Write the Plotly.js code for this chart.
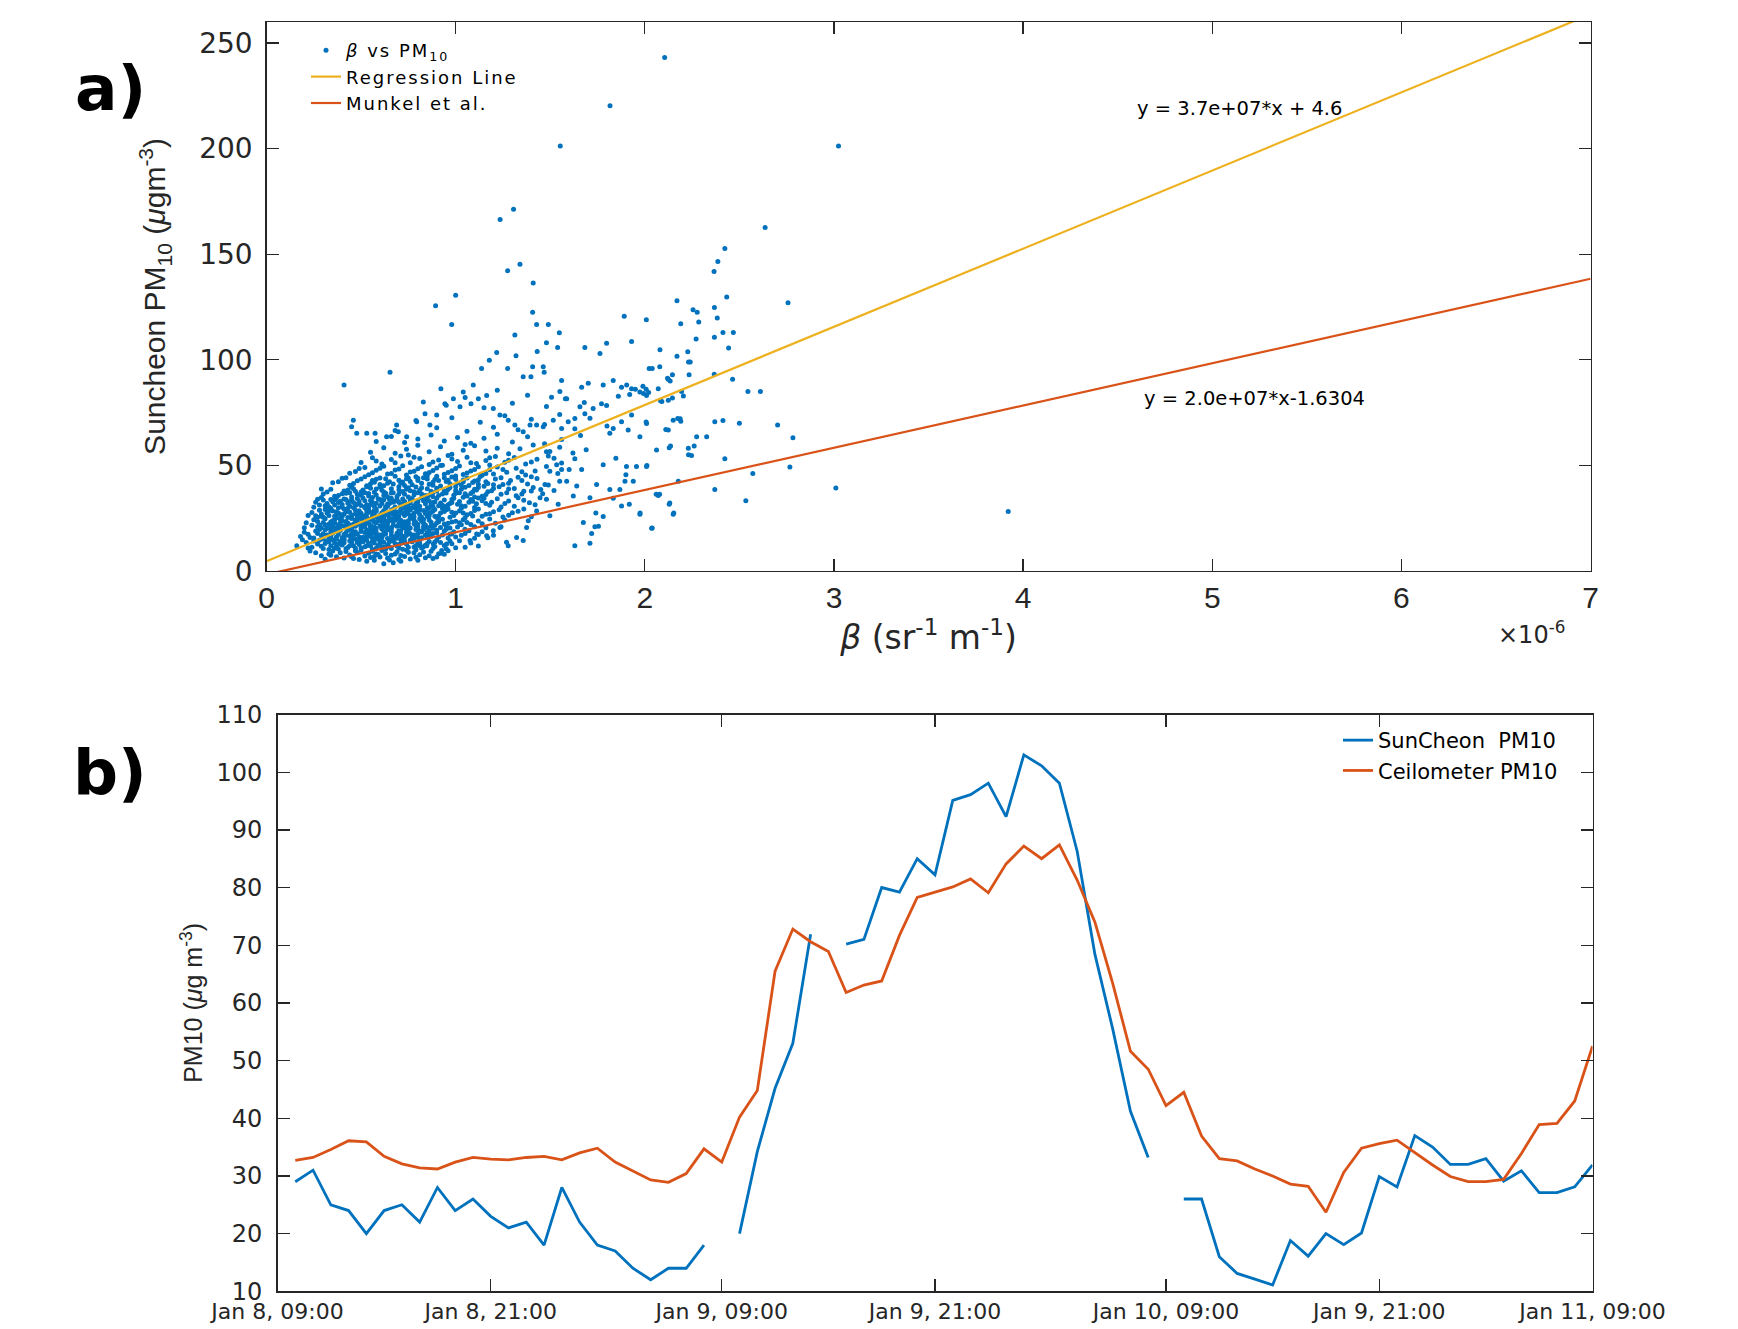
<!DOCTYPE html>
<html>
<head>
<meta charset="utf-8">
<script src="https://cdn.plot.ly/plotly-3.0.1.min.js"></script>
<style>
html,body{margin:0;padding:0;background:#fff;}
#chart{width:1738px;height:1329px;}
g.legend .legendtext{letter-spacing:2px;}
.scrollbox{clip-path:none !important;}
</style>
</head>
<body>
<div id="chart"></div>
<script>
// ---------------- Panel a) data : [beta (x1e-6 sr^-1 m^-1), PM10 (ug m^-3)] ----------------
const coreLow = [
[0.62,3.4],[0.67,3.9],[0.71,4.6],[0.57,5.1],[0.76,5.7],[0.49,5.4],[0.84,6.3],[0.41,6.1],[0.53,4.6],[0.29,7.2],[0.33,8.1],[0.37,6.8],[0.44,7.6],[0.48,8.8],[0.52,7.1],[0.56,9.4],[0.6,6.6],[0.63,8.3],[0.66,7.4],[0.69,9.1],[0.73,6.9],[0.78,8.6],[0.81,7.7],[0.87,9.3],[0.91,8.2],[0.96,9.6],[0.35,9.5],[0.42,9.2],[0.46,5.9],[0.58,8.0],[0.74,9.8],[0.31,5.6],[0.88,5.9],[0.65,5.2],[0.55,6.4],
[0.21,13.5],[0.24,11.2],[0.27,12.8],[0.3,10.6],[0.32,14.1],[0.34,11.9],[0.36,13.2],[0.38,10.4],[0.4,12.3],[0.41,14.6],[0.43,11.1],[0.45,13.7],[0.47,10.8],[0.49,12.6],[0.5,14.4],[0.52,11.5],[0.54,13.0],[0.56,10.2],[0.57,14.8],[0.59,12.1],[0.61,11.0],[0.62,13.6],[0.64,12.4],[0.66,10.7],[0.67,14.2],[0.69,11.8],[0.71,13.1],[0.72,10.3],[0.74,12.7],[0.76,14.5],[0.78,11.4],[0.8,13.3],[0.82,10.9],[0.84,12.2],[0.86,14.0],[0.89,11.6],[0.92,13.5],[0.95,10.5],[0.98,12.9],[1.02,14.3],[1.05,11.3],[0.44,12.0],[0.53,12.0],[0.6,14.0],[0.7,12.5],[0.37,11.5],[0.28,14.6],[0.48,14.9],[0.65,11.5],[0.79,10.1]
];
const coreLowExtra = [
[0.34,7.5],[0.39,8.6],[0.45,6.7],[0.5,9.9],[0.54,8.4],[0.59,7.8],[0.61,9.7],[0.64,6.1],[0.68,8.0],[0.71,7.3],[0.75,8.9],[0.79,6.5],[0.83,9.0],[0.86,7.2],[0.9,6.6],[0.94,7.9],[0.47,9.6],[0.57,6.9],[0.7,5.4],[0.8,5.1],
[0.22,10.9],[0.25,14.2],[0.29,11.7],[0.31,13.0],[0.33,10.2],[0.35,14.8],[0.38,12.7],[0.39,14.0],[0.42,10.5],[0.44,14.3],[0.46,11.9],[0.48,13.5],[0.5,10.9],[0.51,13.8],[0.55,11.8],[0.56,14.0],[0.58,10.8],[0.6,12.8],[0.63,10.4],[0.65,14.7],[0.68,13.0],[0.7,10.9],[0.73,14.1],[0.75,11.2],[0.77,13.8],[0.79,12.0],[0.81,14.6],[0.83,11.5],[0.85,13.0],[0.88,10.6],[0.9,14.5],[0.94,12.1],[0.97,14.2],[1.0,11.0],[1.08,13.2],[1.12,11.8],[0.36,10.8],[0.53,14.6],[0.62,11.4],[0.71,14.9],
[0.16,12.0],[0.19,14.8],[0.23,9.5],[0.26,8.6]
];
const coreMid = [
[0.18,16.3],[0.22,17.4],[0.25,15.6],[0.26,18.9],[0.29,16.8],[0.31,19.5],[0.33,15.3],[0.35,17.9],[0.37,16.1],[0.39,19.2],[0.4,15.8],[0.42,18.1],[0.44,16.6],[0.45,19.8],[0.47,15.2],[0.48,17.5],[0.5,18.7],[0.51,16.0],[0.53,19.4],[0.55,17.1],[0.56,15.5],[0.58,18.3],[0.59,16.7],[0.61,19.9],[0.63,17.6],[0.64,15.4],[0.66,18.5],[0.68,16.3],[0.7,19.0],[0.71,17.2],[0.73,15.9],[0.75,18.8],[0.77,16.5],[0.79,19.6],[0.8,17.8],[0.82,15.7],[0.85,18.2],[0.87,16.4],[0.9,19.3],[0.93,17.0],[0.96,15.6],[0.99,18.6],[1.03,16.9],[1.07,19.1],[1.12,17.3],[1.17,15.8],[0.34,19.9],[0.46,16.9],[0.52,15.1],[0.6,17.0],[0.69,17.9],[0.74,16.9],[0.83,19.7],[0.41,17.3],[0.57,19.0],
[0.24,21.6],[0.27,23.4],[0.29,20.5],[0.31,24.7],[0.33,22.1],[0.35,20.8],[0.36,24.0],[0.38,21.9],[0.4,23.8],[0.42,20.3],[0.43,22.7],[0.45,24.9],[0.47,21.2],[0.48,23.5],[0.5,20.6],[0.52,22.9],[0.53,24.4],[0.55,21.5],[0.57,23.1],[0.58,20.1],[0.6,24.6],[0.62,22.3],[0.63,20.9],[0.65,23.9],[0.67,21.7],[0.68,24.2],[0.7,22.6],[0.72,20.4],[0.73,23.3],[0.75,21.1],[0.77,24.8],[0.78,22.4],[0.8,20.7],[0.82,23.6],[0.84,21.8],[0.86,24.1],[0.88,20.2],[0.9,22.8],[0.93,24.5],[0.95,21.3],[0.98,23.2],[1.01,20.8],[1.04,24.3],[1.08,22.0],[1.12,23.7],[1.16,20.5],[1.21,22.6],[1.26,24.2],[0.46,22.2],[0.56,24.0],[0.64,21.0],[0.74,22.0],[0.83,21.0],[0.92,20.6],[0.39,22.8],[0.51,21.9],[0.61,23.4],[0.71,24.0],[0.34,23.2],[0.79,23.0],
[0.26,26.2],[0.28,28.8],[0.3,25.5],[0.32,27.4],[0.34,29.6],[0.36,25.9],[0.37,28.1],[0.39,26.7],[0.41,29.3],[0.43,25.3],[0.44,27.8],[0.46,29.9],[0.48,26.4],[0.49,28.5],[0.51,25.7],[0.53,27.2],[0.54,29.4],[0.56,26.1],[0.58,28.3],[0.59,25.4],[0.61,27.6],[0.63,29.8],[0.64,26.5],[0.66,28.9],[0.68,25.6],[0.69,27.9],[0.71,29.2],[0.73,26.3],[0.74,28.4],[0.76,25.2],[0.78,27.3],[0.79,29.5],[0.81,26.8],[0.83,28.6],[0.85,25.8],[0.87,27.7],[0.89,29.1],[0.91,26.0],[0.94,28.2],[0.97,25.5],[1.0,27.5],[1.03,29.7],[1.06,26.6],[1.1,28.7],[1.14,25.9],[1.18,27.1],[1.23,29.0],[1.28,26.4],[1.33,28.3],[1.4,25.7],[0.47,27.0],[0.57,27.0],[0.67,26.9],[0.77,29.9],[0.86,29.9],[0.96,29.4],[0.38,29.9],[0.52,29.9],[0.62,25.1],[0.72,27.5],
[0.28,31.2],[0.3,33.6],[0.33,30.4],[0.35,32.8],[0.37,34.7],[0.4,31.5],[0.42,33.9],[0.44,30.6],[0.46,32.4],[0.48,34.3],[0.5,31.0],[0.52,33.2],[0.54,30.2],[0.56,34.8],[0.58,32.1],[0.6,30.8],[0.62,33.7],[0.64,31.7],[0.66,34.5],[0.68,30.3],[0.7,32.6],[0.72,34.1],[0.74,31.3],[0.76,33.4],[0.78,30.9],[0.8,32.9],[0.82,34.6],[0.84,31.8],[0.86,33.1],[0.88,30.5],[0.9,34.4],[0.92,32.2],[0.95,30.7],[0.98,33.8],[1.01,31.6],[1.04,34.9],[1.07,32.5],[1.1,30.1],[1.14,33.3],[1.18,31.1],[1.22,34.2],[1.26,32.0],[1.31,30.6],[1.36,33.5],[1.42,31.4],[1.48,34.0],[0.45,35.0],[0.55,31.5],[0.65,32.0],[0.75,35.0],[0.85,30.0],[0.97,31.9],[1.12,34.6],[0.39,33.0],[0.61,31.9]
];
const coreMidExtra = [
[0.2,18.4],[0.23,15.9],[0.27,17.7],[0.3,15.1],[0.32,17.0],[0.34,16.2],[0.36,18.8],[0.38,17.3],[0.41,15.4],[0.43,19.3],[0.45,17.7],[0.47,18.6],[0.49,16.1],[0.5,15.4],[0.52,18.2],[0.54,16.4],[0.56,19.7],[0.57,17.8],[0.59,15.2],[0.61,16.3],[0.62,18.7],[0.64,19.5],[0.66,16.8],[0.67,15.2],[0.69,16.0],[0.71,18.9],[0.72,16.5],[0.74,19.8],[0.76,17.6],[0.78,15.3],[0.8,16.0],[0.81,18.9],[0.84,16.9],[0.86,19.0],[0.88,17.7],[0.91,16.1],[0.94,18.9],[0.97,17.5],[1.0,16.1],[1.05,17.8],[1.1,15.5],[1.14,18.6],[1.2,16.9],[0.28,19.6],[0.55,18.9],
[0.21,22.9],[0.25,24.3],[0.28,21.8],[0.3,23.0],[0.32,20.2],[0.34,21.5],[0.36,22.6],[0.37,20.5],[0.39,24.6],[0.41,21.4],[0.42,23.4],[0.44,21.8],[0.45,20.4],[0.47,24.0],[0.49,22.1],[0.5,24.8],[0.52,20.9],[0.54,22.5],[0.55,24.6],[0.57,20.8],[0.58,22.9],[0.6,21.4],[0.61,20.2],[0.63,23.8],[0.64,22.5],[0.66,20.5],[0.67,23.3],[0.69,21.2],[0.7,24.6],[0.72,22.9],[0.73,21.6],[0.75,23.8],[0.76,20.3],[0.78,24.1],[0.8,22.0],[0.81,24.7],[0.83,22.7],[0.85,20.6],[0.87,23.1],[0.89,21.6],[0.91,24.0],[0.94,22.2],[0.97,20.4],[1.0,23.6],[1.03,21.9],[1.06,23.0],[1.1,20.9],[1.14,22.4],[1.18,24.6],[1.24,21.0],
[0.24,27.7],[0.27,25.4],[0.29,27.0],[0.31,29.1],[0.33,26.3],[0.35,28.4],[0.37,25.2],[0.38,27.5],[0.4,25.8],[0.42,28.0],[0.43,29.7],[0.45,26.5],[0.47,28.8],[0.48,25.1],[0.5,27.3],[0.52,26.0],[0.53,28.6],[0.55,27.8],[0.57,25.3],[0.58,29.2],[0.6,26.4],[0.62,28.5],[0.63,27.0],[0.65,25.3],[0.67,29.4],[0.68,27.4],[0.7,26.2],[0.71,28.2],[0.73,29.7],[0.75,27.0],[0.76,28.9],[0.78,25.7],[0.8,28.0],[0.82,25.4],[0.84,27.2],[0.86,26.2],[0.88,28.4],[0.9,25.3],[0.92,27.4],[0.95,29.0],[0.99,26.3],[1.02,28.4],[1.05,25.2],[1.08,27.2],[1.12,29.4],[1.16,26.9],[1.2,28.0],[1.25,25.6],[1.3,27.6],[1.36,29.3],
[0.26,32.6],[0.29,34.8],[0.31,30.9],[0.34,33.9],[0.36,31.2],[0.38,32.4],[0.41,34.1],[0.43,32.1],[0.45,33.6],[0.47,31.0],[0.49,32.9],[0.51,34.6],[0.53,31.4],[0.55,33.4],[0.57,30.5],[0.59,34.2],[0.61,33.0],[0.63,30.4],[0.65,34.0],[0.67,32.5],[0.69,33.8],[0.71,31.1],[0.73,32.9],[0.75,30.3],[0.77,34.3],[0.79,32.0],[0.81,30.7],[0.83,33.2],[0.85,34.8],[0.87,31.5],[0.89,32.7],[0.91,30.9],[0.94,33.6],[0.96,31.4],[0.99,34.5],[1.02,32.9],[1.05,30.6],[1.08,33.9],[1.11,31.8],[1.15,34.4],[1.19,32.6],[1.24,30.3],[1.28,33.1],[1.33,34.7],[1.39,32.3]
];
const coreDense = [
[0.33,13.8],[0.37,15.0],[0.41,13.4],[0.45,15.2],[0.49,14.0],[0.53,16.5],[0.57,13.2],[0.61,15.8],[0.65,13.9],[0.69,15.5],[0.73,13.6],[0.77,15.1],[0.81,13.0],[0.85,15.9],[0.89,13.7],
[0.3,17.6],[0.34,18.5],[0.38,19.7],[0.42,16.9],[0.46,18.0],[0.5,19.6],[0.54,18.0],[0.58,16.0],[0.62,17.3],[0.66,19.9],[0.7,17.6],[0.74,18.2],[0.78,17.1],[0.82,18.5],[0.86,17.3],[0.9,18.1],[0.95,19.8],
[0.27,20.9],[0.31,21.9],[0.35,23.8],[0.39,20.9],[0.43,21.6],[0.47,22.8],[0.51,23.6],[0.55,20.6],[0.59,23.8],[0.63,21.6],[0.67,24.7],[0.71,21.4],[0.75,22.6],[0.79,21.3],[0.83,24.4],[0.87,21.3],[0.91,23.3],[0.96,22.6],[1.02,22.8],
[0.29,25.9],[0.33,28.5],[0.37,26.6],[0.41,27.0],[0.45,25.4],[0.49,26.9],[0.53,25.5],[0.57,28.7],[0.61,26.0],[0.65,27.4],[0.69,25.1],[0.73,27.0],[0.77,26.3],[0.81,29.0],[0.85,28.1],[0.89,25.9],[0.93,29.6],[0.98,27.8],[1.04,27.4],[1.09,26.0],
[0.32,31.9],[0.36,33.7],[0.4,30.2],[0.44,32.9],[0.48,31.6],[0.52,30.4],[0.56,32.6],[0.6,33.9],[0.64,30.7],[0.68,33.1],[0.72,31.8],[0.76,32.2],[0.8,31.2],[0.84,33.5],[0.88,32.4],[0.93,31.1],[0.98,32.4],[1.03,30.9],[1.09,33.0],[1.16,31.9],
[0.42,36.8],[0.46,38.9],[0.5,37.4],[0.54,36.7],[0.58,38.8],[0.62,35.8],[0.66,36.9],[0.7,36.5],[0.74,38.7],[0.78,37.5],[0.82,39.4],[0.86,36.0],[0.9,37.9],[0.95,36.9],[1.0,38.1],[1.05,36.6],[1.1,38.7],
[0.56,42.8],[0.64,41.5],[0.72,42.1],[0.8,43.9],[0.88,42.0],[0.96,43.0],[1.04,42.3],[1.12,41.1],
[0.2,20.5],[0.22,26.3],[0.25,30.2],[0.27,34.0],[0.29,38.8]
];
const coreHigh = [
[0.3,36.5],[0.34,38.7],[0.38,35.8],[0.41,37.9],[0.45,39.6],[0.48,36.2],[0.51,38.4],[0.54,35.5],[0.57,37.3],[0.6,39.8],[0.63,36.8],[0.66,38.9],[0.69,35.3],[0.72,37.6],[0.75,39.4],[0.78,36.1],[0.81,38.2],[0.84,35.7],[0.87,37.8],[0.9,39.2],[0.93,36.4],[0.96,38.6],[0.99,35.9],[1.02,37.1],[1.05,39.7],[1.08,36.7],[1.11,38.3],[1.14,35.4],[1.17,37.5],[1.2,39.1],[1.24,36.3],[1.28,38.8],[1.32,35.6],[1.36,37.7],[1.41,39.5],[1.46,36.6],[1.52,38.1],[0.53,39.9],[0.7,39.9],[0.88,35.2],[1.0,39.9],[0.62,37.4],[0.8,37.1],[1.1,35.0],[0.44,37.0],
[0.35,41.8],[0.4,43.9],[0.44,40.6],[0.48,42.7],[0.52,44.6],[0.55,41.3],[0.58,43.4],[0.62,40.4],[0.65,42.2],[0.68,44.8],[0.71,41.6],[0.74,43.7],[0.77,40.8],[0.8,42.9],[0.83,44.2],[0.86,41.1],[0.89,43.3],[0.92,40.2],[0.95,42.4],[0.98,44.5],[1.01,41.7],[1.04,43.1],[1.07,40.5],[1.1,42.6],[1.13,44.7],[1.17,41.4],[1.21,43.6],[1.25,40.9],[1.29,42.8],[1.33,44.4],[1.38,41.2],[1.43,43.8],[1.49,40.7],[1.55,42.5],[0.6,44.0],[0.75,44.0],[0.9,44.9],[1.15,40.1],
[0.44,46.3],[0.49,48.5],[0.54,45.6],[0.58,47.7],[0.62,49.6],[0.66,46.1],[0.7,48.3],[0.74,45.4],[0.78,47.2],[0.82,49.4],[0.86,46.6],[0.9,48.8],[0.94,45.8],[0.98,47.5],[1.02,49.7],[1.06,46.4],[1.1,48.1],[1.14,45.3],[1.18,47.9],[1.22,49.2],[1.27,46.8],[1.32,48.6],[1.37,45.5],[1.42,47.3],[1.48,49.5],[1.54,46.2],[1.6,48.0],[0.85,45.1],[1.0,45.0],[1.2,45.9],
[0.5,51.4],[0.56,53.6],[0.61,50.7],[0.66,52.8],[0.71,54.5],[0.76,51.2],[0.81,53.3],[0.86,50.4],[0.91,52.5],[0.96,54.7],[1.01,51.8],[1.06,53.9],[1.11,50.9],[1.16,52.3],[1.21,54.2],[1.26,51.5],[1.31,53.7],[1.37,50.6],[1.43,52.9],[1.49,54.4],[1.56,51.1],[1.63,53.2],[0.93,50.1],[1.18,50.2],[0.75,54.9],
[0.55,56.2],[0.62,58.4],[0.68,55.7],[0.74,57.6],[0.8,59.5],[0.86,56.4],[0.92,58.8],[0.98,55.3],[1.04,57.2],[1.1,59.3],[1.16,56.8],[1.22,58.1],[1.28,55.5],[1.34,57.9],[1.41,59.7],[1.48,56.5],[1.55,58.6],[1.62,55.9],[1.69,57.4],[1.05,59.9],
[0.58,61.3],[0.66,63.7],[0.73,60.8],[0.8,62.5],[0.87,64.4],[0.94,61.6],[1.01,63.2],[1.08,60.5],[1.15,62.9],[1.22,64.7],[1.3,61.1],[1.38,63.5],[1.47,60.3],[1.56,62.2],[1.66,64.1],
[0.68,66.5],[0.79,71.2],[0.9,67.8],[0.98,72.6],[1.06,66.2],[1.13,70.4],[1.2,68.1],[1.26,73.5],[1.33,66.9],[1.4,71.8],[1.47,69.3],[1.55,74.1],[1.63,67.4],[1.71,72.3],[1.8,68.6],
[0.95,78.5],[1.05,82.1],[1.15,77.3],[1.22,85.6],[1.3,79.4],[1.38,83.2],[1.48,77.9],[1.58,81.5],[1.68,79.8],[1.86,82.7]
];
const coreHighExtra = [
[0.32,37.4],[0.36,35.4],[0.4,36.6],[0.43,38.3],[0.47,37.7],[0.5,35.9],[0.52,37.0],[0.55,39.2],[0.58,36.0],[0.61,38.2],[0.64,35.2],[0.67,37.0],[0.7,38.5],[0.73,36.3],[0.76,38.0],[0.79,39.8],[0.82,36.5],[0.85,38.9],[0.88,37.0],[0.91,35.8],[0.94,37.9],[0.97,39.5],[1.0,36.8],[1.03,38.7],[1.06,35.5],[1.09,37.4],[1.12,39.5],[1.16,36.2],[1.19,38.0],[1.23,39.9],[1.27,37.1],[1.31,39.1],[1.35,36.4],[1.4,37.9],[1.45,38.6],
[0.38,42.3],[0.42,44.1],[0.46,41.4],[0.5,43.6],[0.53,40.3],[0.57,42.0],[0.6,41.0],[0.63,43.7],[0.67,41.2],[0.7,43.0],[0.73,40.5],[0.76,42.4],[0.79,44.6],[0.82,41.6],[0.85,43.5],[0.88,40.6],[0.91,42.9],[0.94,44.1],[0.97,41.3],[1.0,43.4],[1.03,40.7],[1.06,44.0],[1.09,41.9],[1.12,43.2],[1.16,42.2],[1.2,40.8],[1.24,44.2],[1.28,41.6],[1.35,42.9],[1.4,44.6],
[0.47,47.1],[0.52,49.0],[0.56,46.5],[0.6,48.6],[0.64,45.9],[0.68,47.8],[0.72,49.8],[0.76,46.9],[0.8,48.4],[0.84,46.0],[0.88,47.6],[0.92,49.9],[0.96,46.6],[1.0,48.5],[1.04,45.7],[1.08,47.3],[1.12,49.4],[1.16,46.2],[1.25,48.0],[1.35,47.0],[0.58,52.1],[0.68,51.3],[0.78,53.8],[0.88,51.6],[0.98,53.0],[1.08,51.3],[1.18,53.6],[1.28,52.4],[1.4,51.6],[1.52,53.4]
];
const upperCloud = [
[1.275,142.2],[1.34,145.2],[1.41,136.3],[1.0,130.5],[0.894,125.6],[0.979,116.7],[1.407,122.5],[1.313,111.7],[1.217,103.4],[1.178,99.8],[1.137,95.9],[0.653,94.1],[0.41,88.1],[0.922,86.3],[1.275,95.9],[1.319,101.9],[1.428,116.7],[1.49,116.7],[1.548,112.8],[1.48,108.1],[1.539,105.8],[1.431,103.9],[1.407,96.7],[1.463,96.7],[1.468,94.1],[1.357,92.0],[1.398,92.0],[1.683,105.8],[1.763,103.0],[1.798,107.8],[1.891,120.6],[1.93,108.6],[2.08,104.7],[1.56,90.2],[1.666,87.0],[1.701,88.9],[1.78,88.1],[1.833,90.2],[1.877,87.0],[1.904,88.1],[1.93,86.3],[1.974,84.7],[2.009,83.1],[1.507,82.3],[1.551,85.0],[1.587,81.6],[1.093,88.1],[1.164,83.1],[1.12,81.6],[1.04,84.7],[0.829,80.0],[1.081,79.2],[1.023,77.7],[0.988,81.6],[0.943,79.2],[1.199,76.9],[1.234,73.8],[1.771,79.2],[1.798,78.4],[1.727,76.9],[1.657,77.7],[1.683,74.5],[1.63,72.2],[1.595,70.6],[1.56,67.5],[1.516,71.4],[1.463,68.3],[1.428,69.1],[1.393,69.1],[1.357,65.9],[1.313,69.1],[1.278,71.4],[0.9,73.8],[0.838,74.5],[0.864,69.1],[0.794,70.6],[0.741,63.6],[0.688,69.1],[0.697,65.9],[0.635,63.6],[0.574,65.2],[0.53,65.2],[0.459,71.4],[0.45,68.3],[0.477,65.2],[1.877,70.6],[1.833,67.5],[1.815,65.2],[1.93,73.8],[1.912,66.7],[1.974,63.6],[2.009,69.8],[2.071,86.3],[2.124,80.8],[2.194,85.0],[2.15,71.4],[2.19,70.9],[2.124,66.7],[2.062,57.3],[2.129,58.4],[2.23,58.1],[2.247,54.7],[2.274,63.6],[2.327,63.6],[2.009,49.5],[1.956,49.5],[1.903,49.5],[1.9,45.6],[1.895,42.5],[1.939,42.5],[1.847,53.4],[1.868,38.6],[1.815,38.6],[1.78,50.3],[1.745,40.9],[1.78,25.8],[1.736,20.9],[1.719,17.8],[1.71,13.1],[1.675,23.0],[1.63,12.0],[1.877,30.8],[1.918,31.6],[1.833,34.4],[1.71,34.7],[1.666,48.0],[1.64,40.2],[1.622,35.5],[1.587,42.5],[1.56,48.0],[1.534,50.3],[1.498,56.6],[1.498,47.2],[1.472,40.9],[1.446,34.7],[1.428,28.4],[1.498,26.1],[1.542,31.6],[1.384,23.8],[1.375,20.6],[1.357,14.4],[1.322,15.9],[1.278,12.0],[1.269,13.6],[1.234,20.6],[1.199,19.1],[1.164,16.7],[1.111,17.5],[1.076,14.4],[1.049,19.8],[0.979,17.5],[0.952,12.8],[0.926,9.7],[0.926,8.4],[0.882,12.8],[0.847,12.0],[0.811,12.0],[2.129,31.6],[2.15,26.9],[2.071,35.8],[2.036,20.2],[1.974,26.9],[2.177,42.5],[2.37,38.6],[2.37,70.6],
[1.95,86.0],[1.99,87.5],[2.02,84.5],[1.92,83.5]
];
const farPoints = [
[2.105,243.1],[1.816,220.2],[1.553,201.2],[3.024,201.2],[1.235,166.4],[1.306,171.3],[2.636,162.6],[2.423,152.7],[2.386,146.5],[2.366,141.8],
[2.17,127.9],[2.433,129.7],[2.757,127.0],[2.368,124.8],[2.383,119.8],[2.255,123.7],[2.277,122.5],[2.008,118.9],[2.19,117.0],[2.285,117.9],[2.468,112.9],[2.413,112.9],[2.443,105.6],[2.368,110.7],[2.271,109.8],[2.17,101.7],[2.227,103.8],[2.231,99.0],[2.12,91.2],[2.134,89.9],[2.464,90.8],[2.545,85.0],[2.611,85.0],[2.413,71.3],[2.5,70.0],[2.702,69.1],[2.423,53.2],[2.783,63.1],[2.174,72.2],[2.767,49.2],[2.571,46.1],[3.01,39.3],[2.534,33.3],[2.261,59.2],[2.231,55.0],[2.136,59.2],[1.755,21.2],[1.741,27.5],
[2.023,95.9],[2.039,95.9],[2.079,96.7],[2.24,98.9],[2.146,92.9],[2.125,90.6],[2.234,92.9],[2.367,93.2],[2.204,82.9],[2.146,81.9],[2.007,86.0],[1.993,84.0],[2.083,80.6],[2.09,80.3],[2.187,72.1],[2.111,67.0],[3.921,28.2],[2.153,27.4],[2.132,32.2],[2.06,36.3],[2.078,36.3],[1.975,27.4],[2.039,20.4],[2.011,49.9],[2.007,70.5]
];
// fitted lines drawn from their equations over the axis extent
const betaLineEnds = [0, 7];            // x1e-6
const regressionCoef = [3.7e7, 4.6];    // y = a*x + b
const munkelCoef = [2.0e7, -1.6304];
const betaTicks = [0,1,2,3,4,5,6,7];
const pmTicksA = [0,50,100,150,200,250];

// ---------------- Panel b) data : hourly samples ----------------
const sunCheonPM10 = [29,31,25,24,20,24,25,22,28,24,26,23,21,22,18,28,22,18,17,14,12,14,14,18,
  null,20,34.2,45.2,53,71.9,null,70.2,71,80,79.2,85,82.2,95.1,96.1,98.1,92.3,103,101.1,98.1,86.3,68.4,55.5,41.2,33.2,
  null,26,26,16,13.1,12.1,11.1,18.8,16.1,20,18.1,20.1,29.9,28.1,37,35,32,32,33,29.1,30.9,27.1,27.1,28.1,31.9];
const ceilometerPM10 = [32.7,33.2,34.6,36.1,35.9,33.4,32.1,31.4,31.2,32.4,33.2,32.9,32.8,33.2,33.4,32.8,34.0,34.8,32.4,30.9,29.3,28.9,30.4,34.7,32.4,
  40.2,44.8,65.5,72.8,70.6,68.9,61.8,63.1,63.8,71.7,78.3,79.2,80.1,81.5,79.1,84.1,87.2,85.0,87.4,81.3,74.0,63.4,51.6,48.5,
  42.2,44.5,36.9,33.0,32.6,31.2,30.0,28.6,28.2,23.7,30.6,34.8,35.6,36.2,34.0,31.9,29.9,29.0,29.0,29.4,33.9,38.9,39.1,43.0,52.5];
const sampleIndex = sunCheonPM10.map((_, i) => i + 1);
const timeTickIndex = [0, 12, 25, 37, 50, 62, 74];
const timeTickLabels = ['Jan 8, 09:00','Jan 8, 21:00','Jan 9, 09:00','Jan 9, 21:00','Jan 10, 09:00','Jan 9, 21:00','Jan 11, 09:00'];
const pmTicksB = [10,20,30,40,50,60,70,80,90,100,110];

// ---------------- build ----------------
const allPairs = coreLow.concat(coreLowExtra, coreMid, coreMidExtra, coreDense, coreHigh, coreHighExtra, upperCloud, farPoints);
const E6 = 1e-6;
const scatterX = allPairs.map(p => p[0] * E6);
const scatterY = allPairs.map(p => p[1]);
const lineX = betaLineEnds.map(v => v * E6);
const regY = lineX.map(x => regressionCoef[0] * x + regressionCoef[1]);
const munY = lineX.map(x => munkelCoef[0] * x + munkelCoef[1]);

const BLUE = '#0072BD', ORANGE = '#D95319', YELLOW = '#EDB120', AX = '#262626';
const FONT = 'DejaVu Sans';
const NARROW = 'Liberation Sans';

const traces = [
  {type:'scatter', mode:'markers', x:scatterX, y:scatterY, xaxis:'x', yaxis:'y', legend:'legend',
   name:'<i>β</i> vs PM<sub>10</sub>', marker:{color:BLUE, size:5}, hoverinfo:'skip'},
  {type:'scatter', mode:'lines', x:lineX, y:regY, xaxis:'x', yaxis:'y', legend:'legend',
   name:'Regression Line', line:{color:YELLOW, width:2.2}},
  {type:'scatter', mode:'lines', x:lineX, y:munY, xaxis:'x', yaxis:'y', legend:'legend',
   name:'Munkel et al.', line:{color:ORANGE, width:2.2}},
  {type:'scatter', mode:'lines', x:sampleIndex, y:sunCheonPM10, xaxis:'x2', yaxis:'y2', legend:'legend2',
   name:'SunCheon  PM10', line:{color:BLUE, width:2.8}, connectgaps:false},
  {type:'scatter', mode:'lines', x:sampleIndex, y:ceilometerPM10, xaxis:'x2', yaxis:'y2', legend:'legend2',
   name:'Ceilometer PM10', line:{color:ORANGE, width:2.8}}
];

const axBase = {
  showline:true, linecolor:AX, linewidth:1.3, mirror:'allticks', ticks:'inside', ticklen:12,
  tickwidth:1.3, tickcolor:AX, showgrid:false, zeroline:false, automargin:false
};

const layout = {
  width:1738, height:1329, margin:{l:0,r:0,t:0,b:0},
  paper_bgcolor:'#ffffff', plot_bgcolor:'#ffffff',
  font:{family:FONT, color:AX},
  showlegend:true,
  xaxis: Object.assign({}, axBase, {
    domain:[266.5/1738, 1590.6/1738], anchor:'y', range:[0, 7*E6],
    tickvals:betaTicks.map(v => v*E6), ticktext:betaTicks.map(String),
    tickfont:{family:NARROW, size:30, color:AX}, ticklabelstandoff:0,
    title:{text:'<i>β</i> (sr<sup>-1</sup> m<sup>-1</sup>)', font:{family:FONT, size:33, color:AX}, standoff:12}
  }),
  yaxis: Object.assign({}, axBase, {
    domain:[1-571/1329, 1-21.8/1329], anchor:'x', range:[0,260],
    tickvals:pmTicksA, ticktext:pmTicksA.map(String),
    tickfont:{family:FONT, size:28, color:AX}, ticklabelstandoff:7,
    title:{text:'Suncheon PM<sub>10</sub> (<i>μ</i>gm<sup>-3</sup>)', font:{family:NARROW, size:30, color:AX}, standoff:24}
  }),
  xaxis2: Object.assign({}, axBase, {
    domain:[277.5/1738, 1592.5/1738], anchor:'y2', range:[0,74],
    tickvals:timeTickIndex, ticktext:timeTickLabels,
    tickfont:{family:FONT, size:22, color:AX}, ticklabelstandoff:0
  }),
  yaxis2: Object.assign({}, axBase, {
    domain:[1-1291.3/1329, 1-714.5/1329], anchor:'x2', range:[10,110],
    tickvals:pmTicksB, ticktext:pmTicksB.map(String),
    tickfont:{family:FONT, size:24, color:AX}, ticklabelstandoff:9,
    title:{text:'PM10 (<i>μ</i>g m<sup>-3</sup>)', font:{family:NARROW, size:25, color:AX}, standoff:6}
  }),
  legend:{x:306/1738, y:1-32/1329, xanchor:'left', yanchor:'top', bgcolor:'rgba(0,0,0,0)',
          borderwidth:0, font:{family:FONT, size:18, color:'#000'}, tracegroupgap:0},
  legend2:{x:1338/1738, y:1-720/1329, xanchor:'left', yanchor:'top', bgcolor:'rgba(0,0,0,0)',
           borderwidth:0, font:{family:FONT, size:21, color:'#000'}, tracegroupgap:0},
  annotations:[
    {text:'<b>a)</b>', xref:'paper', yref:'paper', x:110/1738, y:1-88/1329, xanchor:'center', yanchor:'middle',
     showarrow:false, font:{family:FONT, size:63, color:'#000'}},
    {text:'<b>b)</b>', xref:'paper', yref:'paper', x:110/1738, y:1-772/1329, xanchor:'center', yanchor:'middle',
     showarrow:false, font:{family:FONT, size:63, color:'#000'}},
    {text:'y = 3.7e+07*x + 4.6', xref:'paper', yref:'paper', x:1239/1738, y:1-108/1329, xanchor:'center', yanchor:'middle',
     showarrow:false, font:{family:FONT, size:19.5, color:'#000'}},
    {text:'y = 2.0e+07*x-1.6304', xref:'paper', yref:'paper', x:1254/1738, y:1-398/1329, xanchor:'center', yanchor:'middle',
     showarrow:false, font:{family:FONT, size:19.5, color:'#000'}},
    {text:'×10<sup>-6</sup>', xref:'paper', yref:'paper', x:1567/1738, y:1-633/1329, xanchor:'right', yanchor:'middle',
     showarrow:false, font:{family:FONT, size:24, color:AX}}
  ]
};

Plotly.newPlot('chart', traces, layout, {staticPlot:true, displayModeBar:false});
</script>
</body>
</html>
